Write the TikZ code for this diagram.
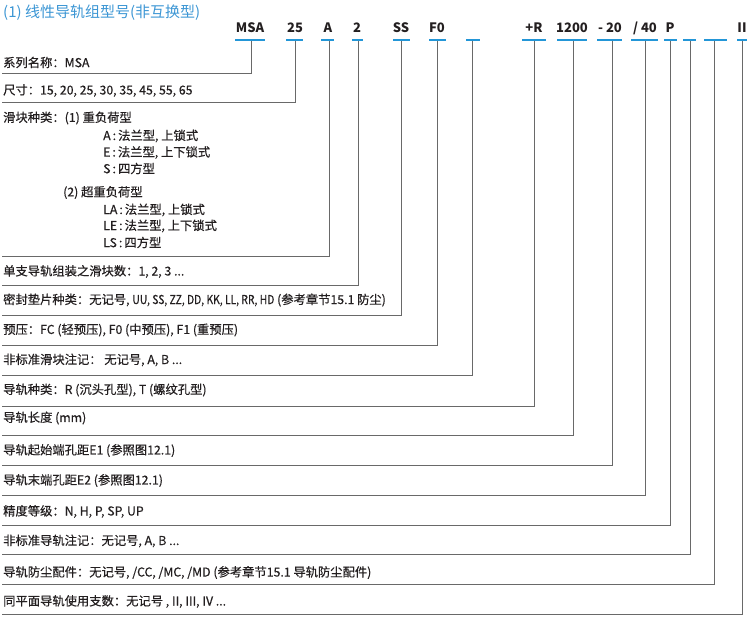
\documentclass[tikz,border=0pt]{standalone}
\usepackage{fontspec}
\setmainfont{Noto Sans CJK SC}
\newfontfamily\bodyfont{Noto Sans CJK SC}[FakeBold=0.5]
\definecolor{ttl}{RGB}{60,150,212}
\definecolor{ubl}{RGB}{35,150,215}
\definecolor{txt}{RGB}{35,31,32}
\definecolor{lin}{RGB}{105,105,105}
\begin{document}
\begin{tikzpicture}[x=1pt,y=-1pt,
  code/.style={font=\fontsize{13}{13}\selectfont\bfseries, text=txt, inner sep=0pt, anchor=center},
  lbl/.style={font=\bodyfont\fontsize{12.3}{13}\selectfont, text=txt, inner sep=0pt, anchor=west},
  uline/.style={draw=ubl, line width=1.3pt},
  conn/.style={draw=lin, line width=1pt}]
\useasboundingbox (0,0) rectangle (750,620);
\node[font=\fontsize{15}{15}\selectfont, text=ttl, inner sep=0pt, anchor=west] (title) at (3,13) {(1) 线性导轨组型号(非互换型)};
% header codes
\node[code] (cMSA) at (250,28) {MSA};
\node[code] (c25) at (295,28) {25};
\node[code] (cA) at (328,28) {A};
\node[code] (c2) at (357,28) {2};
\node[code] (cSS) at (401,28) {SS};
\node[code] (cF0) at (437,28) {F0};
\node[code] (cR) at (534,28) {+R};
\node[code] (c1200) at (572,28) {1200};
\node[code] (c20) at (610,28) {- 20};
\node[code] (c40) at (645,28) {/ 40};
\node[code] (cP) at (670,28) {P};
\node[code] (cII) at (742,28) {II};
% underlines
\foreach \a/\b in {235/265,286/303,321/334,352/363,393/410,429/446,466/480,522/546,557/587,597/622,631/658,664/677,683/696,704/727,737/747}
  \draw[uline] (\a,40) -- (\b,40);
% top points of connectors
\foreach \n/\x in {1/251,2/295,3/329,4/358,5/401,6/437,7/472,8/534,9/573,10/612,11/645,12/670,13/690,14/714,15/742}
  \coordinate (t\n) at (\x,41);
% left end points
\foreach \n/\y in {1/74,2/103,3/257,4/286,5/316,6/346,7/376,8/406,9/435,10/465,11/495,12/525,13/554,14/584,15/614}
  \coordinate (e\n) at (2,\y);
\foreach \n in {1,...,15}
  \draw[conn] (t\n) |- (e\n);
% labels
\node[lbl] (l1) at (3,62.5) {系列名称：MSA};
\node[lbl] (l2) at (3,90.5) {尺寸：15, 20, 25, 30, 35, 45, 55, 65};
\node[lbl] (l3) at (3,118) {滑块种类：(1) 重负荷型};
\node[lbl] (l3a) at (103,136) {A\,:\,法兰型, 上锁式};
\node[lbl] (l3b) at (103,152.5) {E\,:\,法兰型, 上下锁式};
\node[lbl] (l3c) at (103,168.5) {S\,:\,四方型};
\node[lbl] (l3d) at (63,192.5) {(2) 超重负荷型};
\node[lbl] (l3e) at (103,210) {LA\,:\,法兰型, 上锁式};
\node[lbl] (l3f) at (103,226) {LE\,:\,法兰型, 上下锁式};
\node[lbl] (l3g) at (103,242.5) {LS\,:\,四方型};
\node[lbl] (l4) at (3,271.5) {单支导轨组装之滑块数：1, 2, 3 ...};
\node[lbl] (l5) at (3,300) {密封垫片种类：无记号, \scalebox{0.84}[1]{UU, SS, ZZ, DD, KK, LL, RR, HD} (参考章节15.1 防尘)};
\node[lbl] (l6) at (3,330) {预压：FC (轻预压),  F0 (中预压),  F1 (重预压)};
\node[lbl] (l7) at (3,360) {非标准滑块注记： 无记号, A, B ...};
\node[lbl] (l8) at (3,390) {导轨种类：R (沉头孔型), T (螺纹孔型)};
\node[lbl] (l9) at (3,418) {导轨长度 (mm)};
\node[lbl] (l10) at (3,450.5) {导轨起始端孔距E1 (参照图12.1)};
\node[lbl] (l11) at (3,480.5) {导轨末端孔距E2 (参照图12.1)};
\node[lbl] (l12) at (3,511.5) {精度等级：N, H, P, SP, UP};
\node[lbl] (l13) at (3,541) {非标准导轨注记：无记号, A, B ...};
\node[lbl] (l14) at (3,572.5) {导轨防尘配件：无记号, /CC, /MC, /MD (参考章节15.1 导轨防尘配件)};
\node[lbl] (l15) at (3,601.5) {同平面导轨使用支数：无记号 , II, III, IV ...};
\end{tikzpicture}
\end{document}
